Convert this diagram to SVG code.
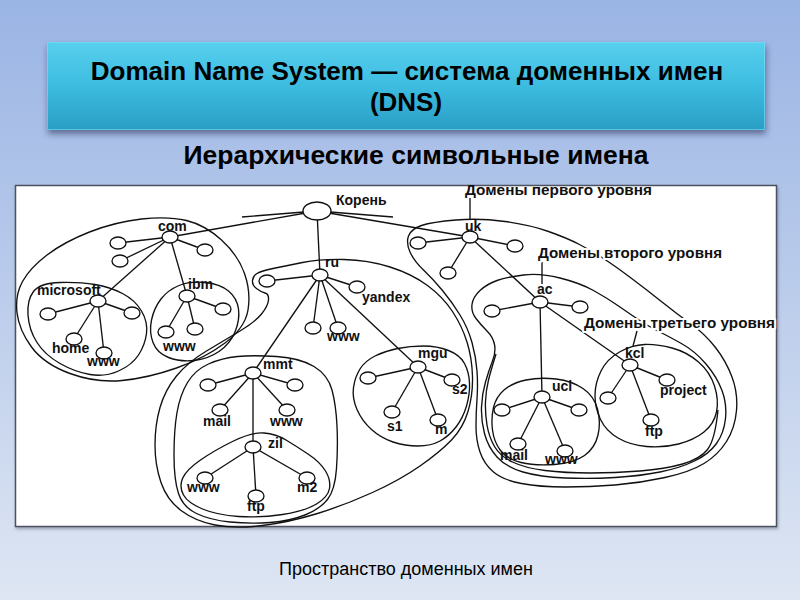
<svg xmlns="http://www.w3.org/2000/svg" width="800" height="600" viewBox="0 0 800 600">
<defs>
<linearGradient id="bg" x1="0" y1="0" x2="0" y2="1">
<stop offset="0" stop-color="#9AB4E4"/><stop offset="1" stop-color="#DEE6F3"/>
</linearGradient>
<linearGradient id="tg" x1="0" y1="0" x2="0" y2="1">
<stop offset="0" stop-color="#58CFEE"/><stop offset="0.5" stop-color="#3CBCE0"/><stop offset="1" stop-color="#2A9EC5"/>
</linearGradient>
<filter id="sh" x="-5%" y="-20%" width="110%" height="150%">
<feDropShadow dx="1" dy="4" stdDeviation="3" flood-color="#1a2a50" flood-opacity="0.55"/>
</filter>
<filter id="sh2" x="-5%" y="-5%" width="110%" height="110%">
<feDropShadow dx="1" dy="2" stdDeviation="1.5" flood-color="#334" flood-opacity="0.35"/>
</filter>
<style>
.dom{fill:none;stroke:#111;stroke-width:1.35;stroke-linejoin:round}
#connectors line{stroke:#111;stroke-width:1.35;fill:none}
.node ellipse{fill:#fff;stroke:#111;stroke-width:1.35}
.node text{font-family:"Liberation Sans",Arial,sans-serif;font-weight:bold;font-size:14px;fill:#111}
.lvl{font-family:"Liberation Sans",Arial,sans-serif;font-weight:bold;font-size:14px;fill:#111}
.halo{stroke:#fff;stroke-width:4;paint-order:stroke;stroke-linejoin:round}
.hd{font-family:"Liberation Sans",Arial,sans-serif;font-weight:bold;fill:#000;text-anchor:middle}
</style>
</defs>
<rect width="800" height="600" fill="url(#bg)"/>
<g id="title">
<rect x="47" y="42" width="718" height="88" fill="url(#tg)" filter="url(#sh)"/>
<rect x="47.5" y="42.5" width="717" height="87" fill="none" stroke="#7EE0F5" stroke-opacity="0.6"/>
<text class="hd" x="407" y="80" font-size="26">Domain Name System — система доменных имен</text>
<text class="hd" x="406" y="111" font-size="26">(DNS)</text>
</g>
<text class="hd" x="416" y="164" font-size="26.5">Иерархические символьные имена</text>
<rect x="15.5" y="185.5" width="761" height="341" fill="#fff" stroke="#4c5262" stroke-width="1.5" filter="url(#sh2)"/>
<g id="domains">
<path id="d-com" class="dom" d="M141.5,219 Q168,216 186.5,220.5 Q205,225 221.5,240 Q238,255 244.5,273.5 Q251,292 248,310 Q245,328 225,343 Q205,358 176.5,368 Q148,378 122,380.5 Q96,383 70,373.5 Q44,364 31.5,347 Q19,330 17,312.5 Q15,295 22.5,281.5 Q30,268 47,255 Q64,242 89.5,232 Q115,222 141.5,219 Z"/>
<path id="d-microsoft" class="dom" d="M33.5,291.5 Q40,283 60,282.5 Q80,282 95,284.5 Q110,287 122.5,293.5 Q135,300 141.5,311 Q148,322 146.5,333.5 Q145,345 138.5,355 Q132,365 118.5,371 Q105,377 90,374.5 Q75,372 60,363.5 Q45,355 37,342.5 Q29,330 28,315 Q27,300 33.5,291.5 Z"/>
<path id="d-ibm" class="dom" d="M179,285.5 Q190,281 205,282.5 Q220,284 228.5,291 Q237,298 238.5,309 Q240,320 235,332 Q230,344 219,351.5 Q208,359 194,360.5 Q180,362 168.5,357.5 Q157,353 153,342.5 Q149,332 151.5,320 Q154,308 161,299 Q168,290 179,285.5 Z"/>
<path id="d-ru" class="dom" d="M257,273.5 Q261,271 273,268.5 Q285,266 302.5,262.5 Q320,259 344,259.5 Q368,260 390,267 Q412,274 427.5,285.5 Q443,297 452.5,311.5 Q462,326 467,342 Q472,358 472.5,376.5 Q473,395 468,411.5 Q463,428 451.5,440 Q440,452 420,466 Q400,480 372.5,492.5 Q345,505 317.5,513.5 Q290,522 262.5,525.5 Q235,529 215,525 Q195,521 181,510.5 Q167,500 161,482.5 Q155,465 155,445 Q155,425 160,407.5 Q165,390 176.5,376 Q188,362 206.5,351 Q225,340 240,331 Q255,322 261.5,314 Q268,306 268.5,300 Q269,294 265,293 Q261,292 256.5,288.5 Q252,285 252.5,280.5 Q253,276 257,273.5 Z"/>
<path id="d-mmt" class="dom" d="M237.5,356.5 Q253,355 276.5,356.5 Q300,358 314,366.5 Q328,375 332,390 Q336,405 337,426 Q338,447 336.5,468.5 Q335,490 327.5,499.5 Q320,509 305,515 Q290,521 270,522.5 Q250,524 230,522 Q210,520 196.5,513.5 Q183,507 178.5,493.5 Q174,480 174,455 Q174,430 177,412.5 Q180,395 187.5,382.5 Q195,370 208.5,364 Q222,358 237.5,356.5 Z"/>
<path id="d-zil" class="dom" d="M233.5,441 Q252,432 264,433 Q276,434 286,440 Q296,446 308,454 Q320,462 325.5,471 Q331,480 329.5,488.5 Q328,497 316.5,504 Q305,511 282.5,514.5 Q260,518 238.5,516.5 Q217,515 202.5,509 Q188,503 183.5,495 Q179,487 182.5,478.5 Q186,470 200.5,460 Q215,450 233.5,441 Z"/>
<path id="d-mgu" class="dom" d="M353.5,387.5 Q355,377 360,369 Q365,361 375,356 Q385,351 397.5,348.5 Q410,346 423.5,346 Q437,346 448.5,350.5 Q460,355 464.5,363.5 Q469,372 469.5,383 Q470,394 466.5,406 Q463,418 456,427 Q449,436 440,441 Q431,446 418,446 Q405,446 393,442 Q381,438 371.5,429.5 Q362,421 357,409.5 Q352,398 353.5,387.5 Z"/>
<path id="d-uk" class="dom" d="M408.5,236 Q411,229 421.5,225.5 Q432,222 456,220 Q480,218 505,221.5 Q530,225 548.5,231.5 Q567,238 579.5,244.5 Q592,251 603.5,258.5 Q615,266 631,278 Q647,290 662,302 Q677,314 691,324 Q705,334 715.5,347.5 Q726,361 732,377 Q738,393 736.5,410.5 Q735,428 726.5,441.5 Q718,455 704,463.5 Q690,472 665,477.5 Q640,483 615,485 Q590,487 565,487 Q540,487 521.5,483.5 Q503,480 493.5,472 Q484,464 480,452 Q476,440 476,426.5 Q476,413 477,399 Q478,385 477,371 Q476,357 472,342.5 Q468,328 460,315 Q452,302 442.5,290.5 Q433,279 423.5,270 Q414,261 410,252 Q406,243 408.5,236 Z"/>
<path id="d-ac" class="dom" d="M497,280.5 Q507,277 523.5,275 Q540,273 560,278 Q580,283 593.5,290.5 Q607,298 618.5,306 Q630,314 639,320 Q648,326 657,330.5 Q666,335 680.5,343 Q695,351 706,364 Q717,377 722,390.5 Q727,404 725.5,418.5 Q724,433 716.5,443.5 Q709,454 694.5,461 Q680,468 660,472 Q640,476 615,477.5 Q590,479 565,478 Q540,477 523,472 Q506,467 497,457 Q488,447 484.5,433.5 Q481,420 481.5,407 Q482,394 485.5,382 Q489,370 492.5,361 Q496,352 494.5,344.5 Q493,337 487,331 Q481,325 476,318.5 Q471,312 472,304.5 Q473,297 480,290.5 Q487,284 497,280.5 Z"/>
<path id="d-third" class="dom" d="M718,410 Q715,440 707.5,449.5 Q700,459 682.5,464 Q665,469 640,471 Q615,473 590,473 Q565,473 545,470.5 Q525,468 512.5,462 Q500,456 494.5,446.5 Q489,437 487,425 Q485,413 485.5,401.5 Q486,390 488.5,380 Q491,370 496,354"/>
<path id="d-ucl" class="dom" d="M526,380 Q540,377 556,379 Q572,381 583,388.5 Q594,396 597.5,409 Q601,422 598,435 Q595,448 584.5,455.5 Q574,463 554.5,464.5 Q535,466 521,462.5 Q507,459 500.5,450.5 Q494,442 492.5,430 Q491,418 493.5,407.5 Q496,397 504,390 Q512,383 526,380 Z"/>
<path id="d-kcl" class="dom" d="M619.5,352 Q632,345 644.5,344.5 Q657,344 672,348 Q687,352 698.5,362 Q710,372 714.5,386 Q719,400 716.5,412 Q714,424 704,432 Q694,440 678.5,444 Q663,448 646.5,446.5 Q630,445 618,438 Q606,431 600.5,419.5 Q595,408 595,395.5 Q595,383 601,371 Q607,359 619.5,352 Z"/>
</g>
<g id="connectors">
<line x1="242" y1="217" x2="304" y2="212"/>
<line x1="330" y1="212" x2="393" y2="217"/>
<line x1="317" y1="211" x2="170" y2="237"/>
<line x1="317" y1="211" x2="320" y2="275"/>
<line x1="317" y1="211" x2="470" y2="237"/>
<line x1="170" y1="237" x2="118" y2="243"/>
<line x1="170" y1="237" x2="120" y2="261"/>
<line x1="170" y1="237" x2="205" y2="250"/>
<line x1="170" y1="237" x2="98" y2="301"/>
<line x1="170" y1="237" x2="187" y2="296"/>
<line x1="98" y1="301" x2="48" y2="314"/>
<line x1="98" y1="301" x2="132" y2="313"/>
<line x1="98" y1="301" x2="74" y2="339"/>
<line x1="98" y1="301" x2="104" y2="353"/>
<line x1="187" y1="296" x2="223" y2="309"/>
<line x1="187" y1="296" x2="166" y2="332"/>
<line x1="187" y1="296" x2="195" y2="329"/>
<line x1="320" y1="275" x2="267" y2="281"/>
<line x1="320" y1="275" x2="357" y2="287"/>
<line x1="320" y1="275" x2="313" y2="328"/>
<line x1="320" y1="275" x2="338" y2="328"/>
<line x1="320" y1="275" x2="253" y2="373"/>
<line x1="320" y1="275" x2="418" y2="367"/>
<line x1="253" y1="373" x2="208" y2="385"/>
<line x1="253" y1="373" x2="295" y2="385"/>
<line x1="253" y1="373" x2="220" y2="410"/>
<line x1="253" y1="373" x2="287" y2="410"/>
<line x1="253" y1="373" x2="253" y2="447"/>
<line x1="253" y1="447" x2="205" y2="478"/>
<line x1="253" y1="447" x2="256" y2="496"/>
<line x1="253" y1="447" x2="307" y2="478"/>
<line x1="418" y1="367" x2="368" y2="378"/>
<line x1="418" y1="367" x2="452" y2="380"/>
<line x1="418" y1="367" x2="392" y2="412"/>
<line x1="418" y1="367" x2="438" y2="420"/>
<line x1="470" y1="237" x2="418" y2="243"/>
<line x1="470" y1="237" x2="515" y2="246"/>
<line x1="470" y1="237" x2="448" y2="273"/>
<line x1="470" y1="237" x2="540" y2="302"/>
<line x1="540" y1="302" x2="492" y2="311"/>
<line x1="540" y1="302" x2="580" y2="307"/>
<line x1="540" y1="302" x2="542" y2="397"/>
<line x1="540" y1="302" x2="630" y2="365"/>
<line x1="542" y1="397" x2="502" y2="410"/>
<line x1="542" y1="397" x2="579" y2="410"/>
<line x1="542" y1="397" x2="518" y2="444"/>
<line x1="542" y1="397" x2="565" y2="451"/>
<line x1="630" y1="365" x2="608" y2="398"/>
<line x1="630" y1="365" x2="667" y2="380"/>
<line x1="630" y1="365" x2="651" y2="420"/>
<line x1="470" y1="198" x2="470" y2="220"/>
<line x1="542" y1="262" x2="542" y2="284"/>
<line x1="637" y1="331" x2="633" y2="346"/>
</g>
<g id="level-labels">
<text class="lvl" x="465" y="195" textLength="187" lengthAdjust="spacingAndGlyphs">Домены первого уровня</text>
<text class="lvl halo" x="538" y="258" textLength="184" lengthAdjust="spacingAndGlyphs">Домены второго уровня</text>
<text class="lvl halo" x="584" y="328" textLength="191" lengthAdjust="spacingAndGlyphs">Домены третьего уровня</text>
</g>
<g id="n-root" class="node"><ellipse cx="317" cy="211" rx="14" ry="9"/><text x="336" y="205">Корень</text></g>
<g id="n-com" class="node"><ellipse cx="170" cy="237" rx="8" ry="6"/><text x="158" y="231">com</text></g>
<g id="n-com-a" class="node"><ellipse cx="118" cy="243" rx="8" ry="6"/></g>
<g id="n-com-b" class="node"><ellipse cx="120" cy="261" rx="8" ry="6"/></g>
<g id="n-com-c" class="node"><ellipse cx="205" cy="250" rx="8" ry="6"/></g>
<g id="n-microsoft" class="node"><ellipse cx="98" cy="301" rx="8" ry="6"/><text x="37" y="295">microsoft</text></g>
<g id="n-ms-a" class="node"><ellipse cx="48" cy="314" rx="8" ry="6"/></g>
<g id="n-ms-b" class="node"><ellipse cx="132" cy="313" rx="8" ry="6"/></g>
<g id="n-ms-home" class="node"><ellipse cx="74" cy="339" rx="8" ry="6"/><text x="52" y="353">home</text></g>
<g id="n-ms-www" class="node"><ellipse cx="104" cy="353" rx="8" ry="6"/><text x="87" y="366">www</text></g>
<g id="n-ibm" class="node"><ellipse cx="187" cy="296" rx="8" ry="6"/><text x="188" y="289">ibm</text></g>
<g id="n-ibm-a" class="node"><ellipse cx="223" cy="309" rx="8" ry="6"/></g>
<g id="n-ibm-b" class="node"><ellipse cx="166" cy="332" rx="8" ry="6"/><text x="163" y="351">www</text></g>
<g id="n-ibm-c" class="node"><ellipse cx="195" cy="329" rx="8" ry="6"/></g>
<g id="n-ru" class="node"><ellipse cx="320" cy="275" rx="8" ry="6"/><text x="325" y="267">ru</text></g>
<g id="n-ru-a" class="node"><ellipse cx="267" cy="281" rx="8" ry="6"/></g>
<g id="n-yandex" class="node"><ellipse cx="357" cy="287" rx="8" ry="6"/><text x="362" y="302">yandex</text></g>
<g id="n-ru-b" class="node"><ellipse cx="313" cy="328" rx="8" ry="6"/></g>
<g id="n-ru-www" class="node"><ellipse cx="338" cy="328" rx="8" ry="6"/><text x="327" y="341">www</text></g>
<g id="n-mmt" class="node"><ellipse cx="253" cy="373" rx="8" ry="6"/><text x="263" y="369">mmt</text></g>
<g id="n-mmt-a" class="node"><ellipse cx="208" cy="385" rx="8" ry="6"/></g>
<g id="n-mmt-b" class="node"><ellipse cx="295" cy="385" rx="8" ry="6"/></g>
<g id="n-mmt-mail" class="node"><ellipse cx="220" cy="410" rx="8" ry="6"/><text x="203" y="426">mail</text></g>
<g id="n-mmt-www" class="node"><ellipse cx="287" cy="410" rx="8" ry="6"/><text x="270" y="426">www</text></g>
<g id="n-zil" class="node"><ellipse cx="253" cy="447" rx="8" ry="6"/><text x="268" y="448">zil</text></g>
<g id="n-zil-www" class="node"><ellipse cx="205" cy="478" rx="8" ry="6"/><text x="187" y="492">www</text></g>
<g id="n-zil-ftp" class="node"><ellipse cx="256" cy="496" rx="8" ry="6"/><text x="247" y="511">ftp</text></g>
<g id="n-zil-m2" class="node"><ellipse cx="307" cy="478" rx="8" ry="6"/><text x="297" y="492">m2</text></g>
<g id="n-mgu" class="node"><ellipse cx="418" cy="367" rx="8" ry="6"/><text x="418" y="358">mgu</text></g>
<g id="n-mgu-a" class="node"><ellipse cx="368" cy="378" rx="8" ry="6"/></g>
<g id="n-mgu-s2" class="node"><ellipse cx="452" cy="380" rx="8" ry="6"/><text x="452" y="394">s2</text></g>
<g id="n-mgu-s1" class="node"><ellipse cx="392" cy="412" rx="8" ry="6"/><text x="387" y="431">s1</text></g>
<g id="n-mgu-m" class="node"><ellipse cx="438" cy="420" rx="8" ry="6"/><text x="435" y="434">m</text></g>
<g id="n-uk" class="node"><ellipse cx="470" cy="237" rx="8" ry="6"/><text x="465" y="231">uk</text></g>
<g id="n-uk-a" class="node"><ellipse cx="418" cy="243" rx="8" ry="6"/></g>
<g id="n-uk-b" class="node"><ellipse cx="515" cy="246" rx="8" ry="6"/></g>
<g id="n-uk-c" class="node"><ellipse cx="448" cy="273" rx="8" ry="6"/></g>
<g id="n-ac" class="node"><ellipse cx="540" cy="302" rx="8" ry="6"/><text x="537" y="294">ac</text></g>
<g id="n-ac-a" class="node"><ellipse cx="492" cy="311" rx="8" ry="6"/></g>
<g id="n-ac-b" class="node"><ellipse cx="580" cy="307" rx="8" ry="6"/></g>
<g id="n-ucl" class="node"><ellipse cx="542" cy="397" rx="8" ry="6"/><text x="552" y="391">ucl</text></g>
<g id="n-ucl-a" class="node"><ellipse cx="502" cy="410" rx="8" ry="6"/></g>
<g id="n-ucl-b" class="node"><ellipse cx="579" cy="410" rx="8" ry="6"/></g>
<g id="n-ucl-mail" class="node"><ellipse cx="518" cy="444" rx="8" ry="6"/><text x="500" y="460">mail</text></g>
<g id="n-ucl-www" class="node"><ellipse cx="565" cy="451" rx="8" ry="6"/><text x="545" y="464">www</text></g>
<g id="n-kcl" class="node"><ellipse cx="630" cy="365" rx="8" ry="6"/><text x="625" y="358">kcl</text></g>
<g id="n-kcl-a" class="node"><ellipse cx="608" cy="398" rx="8" ry="6"/></g>
<g id="n-kcl-project" class="node"><ellipse cx="667" cy="380" rx="8" ry="6"/><text x="660" y="395">project</text></g>
<g id="n-kcl-ftp" class="node"><ellipse cx="651" cy="420" rx="8" ry="6"/><text x="645" y="436">ftp</text></g>
<text x="406" y="575" font-family="Liberation Sans, Arial, sans-serif" font-size="18" fill="#000" text-anchor="middle">Пространство доменных имен</text>
</svg>
